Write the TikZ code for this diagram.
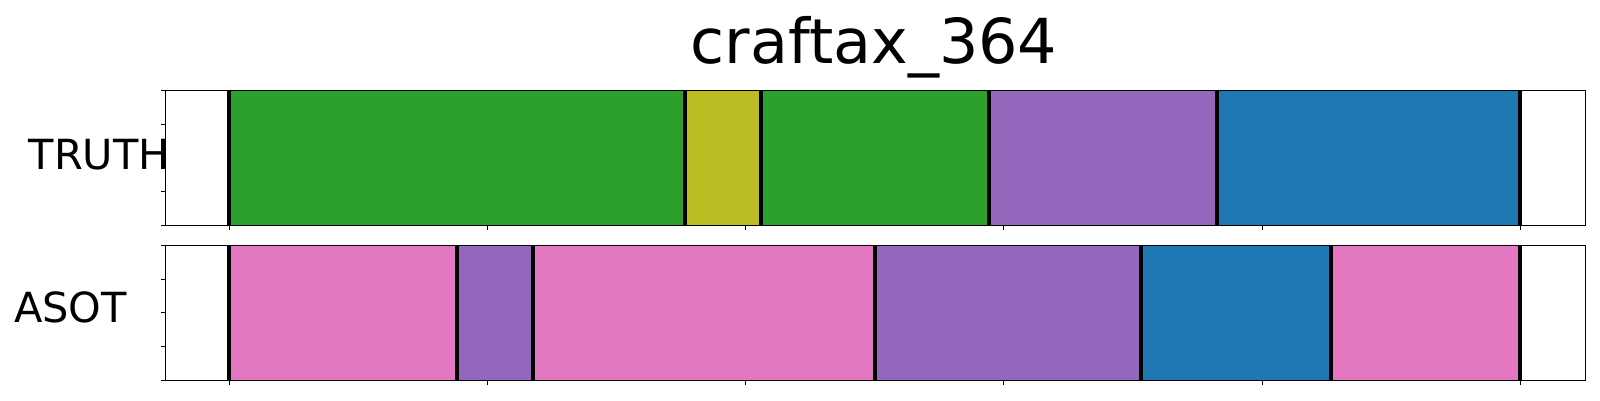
\documentclass[tikz,border=0pt]{standalone}
\usepackage{fontspec}
\setmainfont{DejaVu Sans}
\definecolor{tgreen}{HTML}{2CA02C}
\definecolor{tolive}{HTML}{BCBD22}
\definecolor{tpurple}{HTML}{9467BD}
\definecolor{tblue}{HTML}{1F77B4}
\definecolor{tpink}{HTML}{E377C2}
\tikzset{
  bound/.style={line width=4pt},
  spine/.style={line width=1.3pt},
  tickmark/.style={line width=1pt},
  rowlabel/.style={font=\fontsize{41.5}{48}\selectfont, inner sep=0pt, anchor=base west},
}
\begin{document}
\begin{tikzpicture}[x=1pt,y=-1pt]
\useasboundingbox (0,0) rectangle (1600,400);
% ---- top axes (TRUTH) ----
\fill[tgreen]  (229,90.3) rectangle (685,225.3);
\fill[tolive]  (685,90.3) rectangle (761,225.3);
\fill[tgreen]  (761,90.3) rectangle (989,225.3);
\fill[tpurple] (989,90.3) rectangle (1217,225.3);
\fill[tblue]   (1217,90.3) rectangle (1520,225.3);
\foreach \x in {229,685,761,989,1217,1520}
  \draw[bound] (\x,90.3) -- (\x,225.3);
\draw[spine] (165.7,90.3) rectangle (1585.7,225.3);
\foreach \k in {0,...,4}
  \draw[tickmark] (165.7,90.3+33.75*\k) -- (160.7,90.3+33.75*\k);
\foreach \k in {0,...,5}
  \draw[tickmark] (229.3+258.2*\k,225.3) -- (229.3+258.2*\k,230.3);
% ---- bottom axes (ASOT) ----
\fill[tpink]   (229,245.3) rectangle (457,380.3);
\fill[tpurple] (457,245.3) rectangle (533,380.3);
\fill[tpink]   (533,245.3) rectangle (875,380.3);
\fill[tpurple] (875,245.3) rectangle (1141,380.3);
\fill[tblue]   (1141,245.3) rectangle (1331,380.3);
\fill[tpink]   (1331,245.3) rectangle (1520,380.3);
\foreach \x in {229,457,533,875,1141,1331,1520}
  \draw[bound] (\x,245.3) -- (\x,380.3);
\draw[spine] (165.7,245.3) rectangle (1585.7,380.3);
\foreach \k in {0,...,4}
  \draw[tickmark] (165.7,245.3+33.75*\k) -- (160.7,245.3+33.75*\k);
\foreach \k in {0,...,5}
  \draw[tickmark] (229.3+258.2*\k,380.3) -- (229.3+258.2*\k,385.3);
% ---- texts ----
\node[font=\fontsize{62}{70}\selectfont, inner sep=0pt, anchor=base] (title) at (874,63.3) {craftax\_364};
\node[rowlabel] (truth) at (28.5,169.3) {TRUTH};
\node[rowlabel] (asot) at (14,322.7) {ASOT};
\end{tikzpicture}
\end{document}
